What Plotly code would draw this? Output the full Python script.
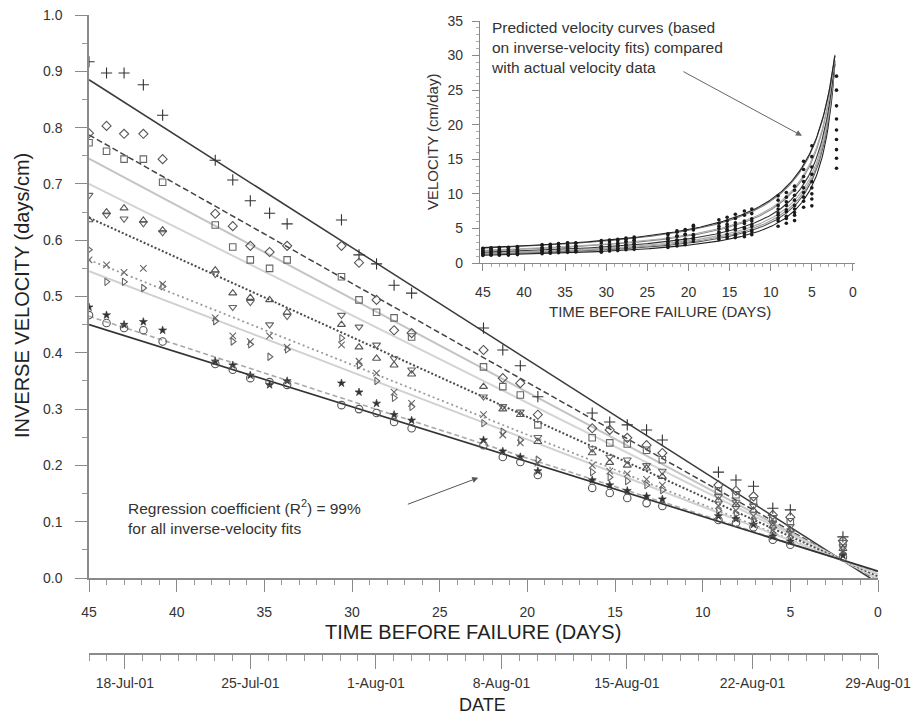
import numpy as np
import plotly.graph_objects as go

W, H = 919, 718

# ---------------- data ----------------
days = [45.0, 44.0, 43.0, 41.9, 40.8, 37.8, 36.8, 35.8, 34.7, 33.7,
        30.6, 29.6, 28.6, 27.6, 26.6, 22.5, 21.4, 20.4, 19.4,
        16.3, 15.3, 14.3, 13.2, 12.3, 9.1, 8.1, 7.1, 6.0, 5.0, 2.0]

inv_plus = [0.917, 0.897, 0.897, 0.876, 0.822, 0.742, 0.707, 0.670, 0.648, 0.629,
            0.636, 0.574, 0.558, 0.520, 0.506, 0.444, 0.405, 0.377, 0.322,
            0.293, 0.277, 0.272, 0.263, 0.245, 0.188, 0.174, 0.163, 0.124, 0.121, 0.073]
inv_diamond = [0.790, 0.803, 0.789, 0.789, 0.744, 0.647, 0.625, 0.590, 0.579, 0.590,
               0.590, 0.560, 0.494, 0.440, 0.435, 0.405, 0.355, 0.346, 0.290,
               0.266, 0.263, 0.249, 0.236, 0.222, 0.165, 0.155, 0.145, 0.112, 0.108, 0.066]
inv_square = [0.773, 0.758, 0.744, 0.744, 0.703, 0.627, 0.588, 0.565, 0.550, 0.565,
              0.535, 0.494, 0.472, 0.462, 0.428, 0.375, 0.340, 0.325, 0.272,
              0.249, 0.240, 0.238, 0.227, 0.210, 0.155, 0.148, 0.137, 0.105, 0.100, 0.061]
inv_tri_down = [0.680, 0.645, 0.638, 0.630, 0.614, 0.540, 0.481, 0.490, 0.450, 0.465,
                0.467, 0.446, 0.414, 0.390, 0.370, 0.322, 0.305, 0.295, 0.250,
                0.230, 0.215, 0.210, 0.200, 0.190, 0.145, 0.135, 0.128, 0.098, 0.092, 0.056]
inv_tri_up = [0.636, 0.650, 0.657, 0.635, 0.618, 0.547, 0.506, 0.498, 0.494, 0.472,
              0.450, 0.410, 0.390, 0.378, 0.362, 0.340, 0.300, 0.290, 0.242,
              0.222, 0.205, 0.200, 0.195, 0.180, 0.138, 0.130, 0.120, 0.092, 0.085, 0.052]
inv_x = [0.565, 0.556, 0.543, 0.550, 0.522, 0.462, 0.430, 0.420, 0.430, 0.410,
         0.414, 0.385, 0.364, 0.330, 0.310, 0.290, 0.254, 0.240, 0.204,
         0.200, 0.190, 0.185, 0.175, 0.165, 0.128, 0.120, 0.110, 0.085, 0.078, 0.048]
inv_tri_right = [0.583, 0.526, 0.526, 0.515, 0.518, 0.456, 0.420, 0.415, 0.393, 0.406,
                 0.426, 0.378, 0.350, 0.320, 0.304, 0.275, 0.260, 0.245, 0.210,
                 0.188, 0.179, 0.172, 0.165, 0.156, 0.120, 0.113, 0.102, 0.080, 0.072, 0.044]
inv_star = [0.481, 0.467, 0.450, 0.455, 0.440, 0.385, 0.378, 0.360, 0.343, 0.350,
            0.346, 0.330, 0.310, 0.290, 0.280, 0.245, 0.225, 0.215, 0.190,
            0.174, 0.165, 0.155, 0.145, 0.140, 0.110, 0.105, 0.095, 0.074, 0.065, 0.040]
inv_circle = [0.467, 0.453, 0.444, 0.440, 0.420, 0.380, 0.370, 0.355, 0.348, 0.343,
              0.307, 0.300, 0.293, 0.277, 0.266, 0.236, 0.215, 0.206, 0.183,
              0.160, 0.151, 0.142, 0.133, 0.128, 0.103, 0.098, 0.090, 0.068, 0.059, 0.037]

series = [inv_plus, inv_diamond, inv_square, inv_tri_down, inv_tri_up,
          inv_x, inv_tri_right, inv_star, inv_circle]

# inverse-velocity fits: fitted value at 45 days and at 0 days before failure
fit_days = [45.0, 0.0]
fit_at_45 = [0.885, 0.787, 0.745, 0.700, 0.640, 0.565, 0.545, 0.465, 0.450]
fit_at_0 = [-0.009, -0.004, -0.002, 0.000, 0.003, 0.006, 0.007, 0.011, 0.012]
curve_end_day = 2.2   # predicted-velocity curves in the inset stop here

date_range = ["2001-07-16", "2001-08-29"]
first_date_tick = "2001-07-18"

# ---------------- styles ----------------
symbols = ["cross-thin-open", "diamond-open", "square-open", "triangle-down-open",
           "triangle-up-open", "x-thin-open", "triangle-right-open", "star", "circle-open"]
msizes = [8, 7, 6.5, 7, 7, 6.5, 6.5, 6, 7.5]
mcolors = ["#333", "#555", "#666", "#666", "#555", "#666", "#666", "#333", "#555"]
lcolors = ["#3a3a3a", "#444", "#c4c4c4", "#d4d4d4", "#4a4a4a", "#9a9a9a", "#d0d0d0", "#aaaaaa", "#333"]
ldash = ["solid", "6px,3px", "solid", "solid", "2px,2px", "2px,3px", "solid", "5px,3px", "solid"]
lwidth = [1.5, 1.5, 2.0, 2.0, 2.0, 1.8, 2.0, 1.6, 1.7]
inset_lcolors = ["#222", "#555", "#999", "#aaa", "#333", "#888", "#aaa", "#777", "#222"]

FONT = "Liberation Sans, Arial, sans-serif"
fig = go.Figure()

# main plot: fits + points
for i, vals in enumerate(series):
    fig.add_trace(go.Scatter(
        x=fit_days, y=[fit_at_45[i], fit_at_0[i]], mode="lines",
        line=dict(color=lcolors[i], dash=ldash[i], width=lwidth[i]),
        hoverinfo="skip", xaxis="x", yaxis="y"))
for i, vals in enumerate(series):
    filled = symbols[i] == "star"
    fig.add_trace(go.Scatter(
        x=days, y=vals, mode="markers",
        marker=dict(symbol=symbols[i], size=msizes[i], color=mcolors[i],
                    line=dict(width=1.1 if not filled else 0.6, color=mcolors[i])),
        xaxis="x", yaxis="y"))

# inset: predicted velocity curves (1 / fit) + velocity data (1 / inverse velocity)
dgrid = np.linspace(45, curve_end_day, 300)
for i in range(len(series)):
    inv_fit = fit_at_0[i] + (fit_at_45[i] - fit_at_0[i]) * dgrid / 45.0
    fig.add_trace(go.Scatter(
        x=dgrid, y=1.0 / inv_fit, mode="lines",
        line=dict(color=inset_lcolors[i], width=1.1),
        hoverinfo="skip", xaxis="x2", yaxis="y2"))
for i, vals in enumerate(series):
    fig.add_trace(go.Scatter(
        x=days, y=1.0 / np.array(vals), mode="markers",
        marker=dict(symbol="circle", size=3.6, color="#1a1a1a"),
        xaxis="x2", yaxis="y2"))

# date axis carrier (invisible)
fig.add_trace(go.Scatter(x=date_range, y=[0, 0], mode="markers",
                         marker=dict(opacity=0), hoverinfo="skip",
                         xaxis="x3", yaxis="y3"))

axc = "#8a8a8a"
tickfont = dict(family=FONT, size=14, color="#333")

fig.update_layout(
    template="none",
    width=W, height=H, margin=dict(l=0, r=0, t=0, b=0, pad=0),
    paper_bgcolor="white", plot_bgcolor="rgba(0,0,0,0)", showlegend=False,
    font=dict(family=FONT, color="#333"),
    xaxis=dict(domain=[89 / W, 878 / W], range=[45, 0], anchor="y", automargin=False,
               showgrid=False, zeroline=False, showline=True, linecolor=axc, linewidth=1.5,
               ticks="outside", ticklen=12, tickwidth=1.2, tickcolor=axc,
               tick0=0, dtick=5, tickfont=tickfont, ticklabelstandoff=8,
               minor=dict(ticks="outside", ticklen=5, dtick=1, tickcolor="#999", tickwidth=1, showgrid=False)),
    yaxis=dict(domain=[1 - 578 / H, 1 - 15 / H], range=[0, 1.0], anchor="x", automargin=False,
               showgrid=False, zeroline=False, showline=True, linecolor=axc, linewidth=1.5,
               ticks="outside", ticklen=12, tickwidth=1.2, tickcolor=axc,
               tick0=0, dtick=0.1, tickformat=".1f", tickfont=tickfont, ticklabelstandoff=10,
               minor=dict(ticks="outside", ticklen=5, dtick=0.05, tickcolor="#999", tickwidth=1, showgrid=False)),
    xaxis2=dict(domain=[480 / W, 855 / W], range=[45.35, -0.25], anchor="y2", automargin=False,
                showgrid=False, zeroline=False, showline=True, linecolor=axc, linewidth=1.2,
                ticks="outside", ticklen=7, tickwidth=1, tickcolor=axc,
                tick0=0, dtick=5, tickfont=tickfont, ticklabelstandoff=9,
                minor=dict(ticks="outside", ticklen=3, dtick=1, tickcolor="#aaa", showgrid=False)),
    yaxis2=dict(domain=[1 - 263 / H, 1 - 21 / H], range=[0, 35], anchor="x2", automargin=False,
                showgrid=False, zeroline=False, showline=True, linecolor=axc, linewidth=1.2,
                ticks="outside", ticklen=7, tickwidth=1, tickcolor=axc,
                tick0=0, dtick=5, tickfont=tickfont, ticklabelstandoff=6,
                minor=dict(ticks="outside", ticklen=3, dtick=1, tickcolor="#aaa", showgrid=False)),
    xaxis3=dict(domain=[89 / W, 878 / W], type="date", range=date_range, anchor="y3", automargin=False,
                showgrid=False, zeroline=False, showline=True, linecolor=axc, linewidth=1.5,
                ticks="outside", ticklen=14, tickwidth=1.2, tickcolor=axc,
                tick0=first_date_tick, dtick=7 * 86400000, tickformat="%-d-%b-%y",
                tickfont=tickfont, ticklabelstandoff=2,
                minor=dict(ticks="outside", ticklen=6, dtick=86400000, tickcolor="#999", showgrid=False)),
    yaxis3=dict(domain=[1 - 653 / H, 1 - 651 / H], visible=False, anchor="x3", range=[-1, 1]),
)

def label(text, x, y, size, color="#222", angle=0):
    return dict(text=text, x=x / W, y=1 - y / H, xref="paper", yref="paper",
                xanchor="center", yanchor="middle", showarrow=False, textangle=angle,
                font=dict(family=FONT, size=size, color=color))

ann = [
    label("INVERSE VELOCITY (days/cm)", 22, 296, 20, angle=-90),
    label("TIME BEFORE FAILURE (DAYS)", 473, 632, 20),
    label("DATE", 483, 705, 18),
    label("TIME BEFORE FAILURE (DAYS)", 660, 311, 15, color="#333"),
    label("VELOCITY (cm/day)", 432, 142, 15, color="#333", angle=-90),
]
ann.append(dict(text="Predicted velocity curves (based<br>on inverse-velocity fits) compared<br>with actual velocity data",
                x=489 / W, y=1 - 17 / H, xref="paper", yref="paper", xanchor="left", yanchor="top",
                align="left", showarrow=False, font=dict(family=FONT, size=15.5, color="#333")))
ann.append(dict(text="", x=6.2, y=18.4, xref="x2", yref="y2", ax=20.8, ay=27.8, axref="x2", ayref="y2",
                showarrow=True, arrowhead=2, arrowsize=1.2, arrowwidth=1, arrowcolor="#666"))
ann.append(dict(text="Regression coefficient (R<sup>2</sup>) = 99%<br>for all inverse-velocity fits",
                x=126 / W, y=1 - 495 / H, xref="paper", yref="paper", xanchor="left", yanchor="top",
                align="left", showarrow=False, font=dict(family=FONT, size=15.5, color="#333")))
ann.append(dict(text="", x=22.8, y=0.178, xref="x", yref="y", ax=26.9, ay=0.13, axref="x", ayref="y",
                showarrow=True, arrowhead=2, arrowsize=1.2, arrowwidth=1, arrowcolor="#555"))
fig.update_layout(annotations=ann)

fig.write_html("out.html")
